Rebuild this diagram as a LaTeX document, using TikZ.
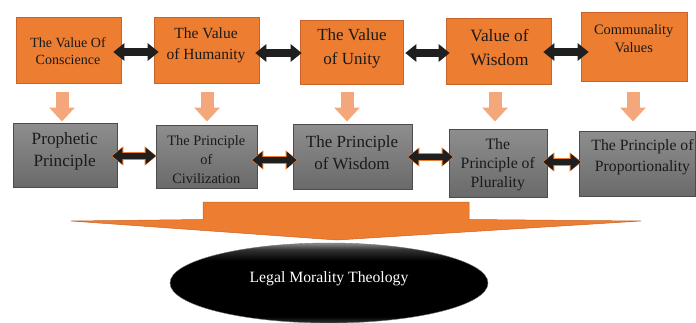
\documentclass[tikz,border=0pt]{standalone}
\usepackage{fontspec}
\setmainfont{Liberation Serif}
\usetikzlibrary{arrows.meta,shapes.geometric}
\definecolor{org}{HTML}{ED7D31}
\definecolor{orgline}{HTML}{C8642A}
\definecolor{lorg}{HTML}{F5A77C}
\definecolor{gbt}{HTML}{8E8E8E}
\definecolor{gbb}{HTML}{6A6A6A}
\definecolor{txtc}{HTML}{1A1A1A}
\pgfdeclareverticalshading{ellsh}{100bp}{color(0bp)=(black!80); color(25bp)=(black!80); color(29bp)=(black); color(64bp)=(black); color(71bp)=(black!80); color(75bp)=(black!45); color(100bp)=(black!45)}
\begin{document}
\begin{tikzpicture}[x=1pt,y=-1pt,
  obox/.style={rectangle, draw=orgline, line width=0.6pt, fill=org, inner sep=0pt},
  gbox/.style={rectangle, draw=black!70, line width=0.6pt, top color=gbt, bottom color=gbb, inner sep=0pt},
  txt/.style={align=center, inner sep=0pt, text=txtc},
  dblarrow/.style={line width=8pt, draw=black!88, {Triangle[length=11pt,width=17pt]}-{Triangle[length=11pt,width=17pt]}},
  dblout/.style={line width=8pt, draw=org, {Triangle[length=12pt,width=18.5pt]}-{Triangle[length=12pt,width=18.5pt]}},
  dblin/.style={line width=6pt, draw=black!88, {Triangle[length=10pt,width=16pt]}-{Triangle[length=10pt,width=16pt]}},
  downarr/.style={line width=13pt, draw=lorg, -{Triangle[length=14pt,width=25pt]}}
]
\useasboundingbox (0,0) rectangle (696,322);

% top row boxes
\node[obox, minimum width=105pt, minimum height=66pt] (b1) at (68.5,50) {};
\node[obox, minimum width=105pt, minimum height=66pt] (b2) at (206.5,50) {};
\node[obox, minimum width=103pt, minimum height=64pt] (b3) at (351.5,52) {};
\node[obox, minimum width=105pt, minimum height=66pt] (b4) at (498.5,51) {};
\node[obox, minimum width=106pt, minimum height=69pt] (b5) at (634,46.5) {};

\node[txt, font=\fontsize{14}{17}\selectfont] (t1) at (68,51.5) {The Value Of\\Conscience};
\node[txt, font=\fontsize{15.5}{20.7}\selectfont] (t2) at (206,45.5) {The Value\\of Humanity};
\node[txt, font=\fontsize{17}{24}\selectfont] (t3) at (352,48) {The Value\\of Unity};
\node[txt, font=\fontsize{17.3}{23.3}\selectfont] (t4) at (499.5,47.5) {Value of\\Wisdom};
\node[txt, font=\fontsize{14.4}{18.3}\selectfont] (t5) at (633.7,38.5) {Communality\\Values};

% bottom row boxes
\node[gbox, minimum width=104pt, minimum height=64pt] (g1) at (65,155) {};
\node[gbox, minimum width=101pt, minimum height=63pt] (g2) at (206.5,156.5) {};
\node[gbox, minimum width=119pt, minimum height=65pt] (g3) at (352.5,156.5) {};
\node[gbox, minimum width=98pt, minimum height=68pt] (g4) at (498,163) {};
\node[gbox, minimum width=116pt, minimum height=65pt] (g5) at (637,163.5) {};

\node[txt, font=\fontsize{17.2}{21.7}\selectfont] (s1) at (64.7,151.5) {Prophetic\\Principle};
\node[txt, font=\fontsize{14.4}{18.8}\selectfont] (s2) at (206.3,159.5) {The Principle\\of\\Civilization};
\node[txt, font=\fontsize{17}{21.7}\selectfont] (s3) at (352,153) {The Principle\\of Wisdom};
\node[txt, font=\fontsize{15.8}{18.8}\selectfont] (s4) at (497.8,164.5) {The\\Principle of\\Plurality};
\node[txt, font=\fontsize{15.7}{20.7}\selectfont] (s5) at (642.5,157) {The Principle of\\Proportionality};

% top double arrows
\draw[dblarrow, shorten <=-8pt, shorten >=-5pt] ([yshift=-2pt]b1.east) -- ([yshift=-2pt]b1.east -| b2.west);
\draw[dblarrow, shorten <=-4pt, shorten >=-2pt] ([yshift=-3pt]b2.east) -- ([yshift=-3pt]b2.east -| b3.west);
\draw[dblarrow, shorten <=2pt, shorten >=-4pt] ([yshift=-1pt]b3.east) -- ([yshift=-1pt]b3.east -| b4.west);
\draw[dblarrow, shorten <=-8pt, shorten >=-8pt] ([yshift=-1pt]b4.east) -- ([yshift=-1pt]b4.east -| b5.west);

% bottom double arrows (black with orange rim)
\foreach \a/\b/\ys/\sa/\sb in {g1/g2/-1/-5/0, g2/g3/-3.5/-5/-4, g3/g4/-0.5/-4/-4, g4/g5/1/-4/-2}{
  \draw[dblout, shorten <=\sa pt-1pt, shorten >=\sb pt-1pt] ([yshift=\ys pt]\a.east) -- ([yshift=\ys pt]\a.east -| \b.west);
  \draw[dblin, shorten <=\sa pt, shorten >=\sb pt] ([yshift=\ys pt]\a.east) -- ([yshift=\ys pt]\a.east -| \b.west);
}

% down arrows
\foreach \i/\x in {1/62, 2/207, 3/347, 4/495, 5/633}{
  \coordinate (d\i s) at (\x,92);
  \coordinate (d\i e) at (\x,121.5);
  \draw[downarr] (d\i s) -- (d\i e);
}

% big orange arrow
\draw[fill=org, draw=orgline, line width=0.5pt, line join=miter]
  (203,202) -- (469,202) -- (469,219.5) -- (641,221) -- (337,240) -- (71,221) -- (203,219.5) -- cycle;

% ellipse
\node[ellipse, minimum width=318pt, minimum height=80pt, inner sep=0pt,
      shading=ellsh, draw=black!55, line width=0.4pt] (e) at (329,283) {};
\node[txt, text=white, font=\fontsize{15.7}{19}\selectfont] (et) at (329,279) {Legal Morality Theology};
\end{tikzpicture}
\end{document}
